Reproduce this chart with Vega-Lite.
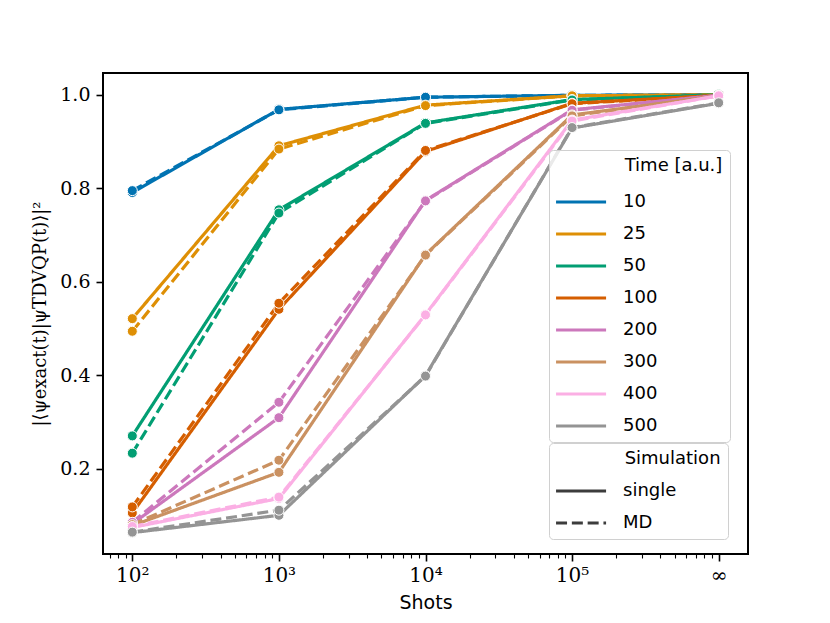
{
  "$schema": "https://vega.github.io/schema/vega-lite/v6.json",
  "width": 645,
  "height": 481,
  "autosize": {"type": "none"},
  "padding": {"left": 103, "top": 73, "right": 82, "bottom": 69},
  "background": "white",
  "config": {
    "view": {"stroke": "black", "strokeWidth": 2},
    "axis": {"grid": false, "domain": false, "tickColor": "black", "labelColor": "black", "titleColor": "black"},
    "legend": {
      "titleFont": "DejaVu Sans", "titleFontSize": 18, "titleFontWeight": "normal", "titleColor": "black",
      "labelFont": "DejaVu Sans", "labelFontSize": 18, "labelColor": "black",
      "fillColor": "rgba(255,255,255,0.8)", "strokeColor": "#d0d0d0", "cornerRadius": 4,
      "symbolType": "M-1.1,0H2.35", "symbolSize": 841, "symbolStrokeWidth": 3, "symbolFillColor": "transparent",
      "labelOffset": 35, "rowPadding": 7, "padding": 7
    }
  },
  "data": {
    "values": [
      {"shots": 100, "time": 10, "sim": "single", "fid": 0.791},
      {"shots": 1000, "time": 10, "sim": "single", "fid": 0.969},
      {"shots": 10000, "time": 10, "sim": "single", "fid": 0.995},
      {"shots": 100000, "time": 10, "sim": "single", "fid": 0.999},
      {"shots": 1000000, "time": 10, "sim": "single", "fid": 1.0},
      {"shots": 100, "time": 10, "sim": "MD", "fid": 0.795},
      {"shots": 1000, "time": 10, "sim": "MD", "fid": 0.968},
      {"shots": 10000, "time": 10, "sim": "MD", "fid": 0.995},
      {"shots": 100000, "time": 10, "sim": "MD", "fid": 0.999},
      {"shots": 1000000, "time": 10, "sim": "MD", "fid": 1.0},
      {"shots": 100, "time": 25, "sim": "single", "fid": 0.521},
      {"shots": 1000, "time": 25, "sim": "single", "fid": 0.891},
      {"shots": 10000, "time": 25, "sim": "single", "fid": 0.978},
      {"shots": 100000, "time": 25, "sim": "single", "fid": 0.998},
      {"shots": 1000000, "time": 25, "sim": "single", "fid": 1.0},
      {"shots": 100, "time": 25, "sim": "MD", "fid": 0.494},
      {"shots": 1000, "time": 25, "sim": "MD", "fid": 0.884},
      {"shots": 10000, "time": 25, "sim": "MD", "fid": 0.977},
      {"shots": 100000, "time": 25, "sim": "MD", "fid": 0.998},
      {"shots": 1000000, "time": 25, "sim": "MD", "fid": 1.0},
      {"shots": 100, "time": 50, "sim": "single", "fid": 0.270},
      {"shots": 1000, "time": 50, "sim": "single", "fid": 0.754},
      {"shots": 10000, "time": 50, "sim": "single", "fid": 0.940},
      {"shots": 100000, "time": 50, "sim": "single", "fid": 0.990},
      {"shots": 1000000, "time": 50, "sim": "single", "fid": 1.0},
      {"shots": 100, "time": 50, "sim": "MD", "fid": 0.233},
      {"shots": 1000, "time": 50, "sim": "MD", "fid": 0.747},
      {"shots": 10000, "time": 50, "sim": "MD", "fid": 0.939},
      {"shots": 100000, "time": 50, "sim": "MD", "fid": 0.989},
      {"shots": 1000000, "time": 50, "sim": "MD", "fid": 1.0},
      {"shots": 100, "time": 100, "sim": "single", "fid": 0.105},
      {"shots": 1000, "time": 100, "sim": "single", "fid": 0.541},
      {"shots": 10000, "time": 100, "sim": "single", "fid": 0.879},
      {"shots": 100000, "time": 100, "sim": "single", "fid": 0.982},
      {"shots": 1000000, "time": 100, "sim": "single", "fid": 0.999},
      {"shots": 100, "time": 100, "sim": "MD", "fid": 0.118},
      {"shots": 1000, "time": 100, "sim": "MD", "fid": 0.554},
      {"shots": 10000, "time": 100, "sim": "MD", "fid": 0.881},
      {"shots": 100000, "time": 100, "sim": "MD", "fid": 0.981},
      {"shots": 1000000, "time": 100, "sim": "MD", "fid": 0.999},
      {"shots": 100, "time": 200, "sim": "single", "fid": 0.082},
      {"shots": 1000, "time": 200, "sim": "single", "fid": 0.309},
      {"shots": 10000, "time": 200, "sim": "single", "fid": 0.774},
      {"shots": 100000, "time": 200, "sim": "single", "fid": 0.968},
      {"shots": 1000000, "time": 200, "sim": "single", "fid": 0.999},
      {"shots": 100, "time": 200, "sim": "MD", "fid": 0.085},
      {"shots": 1000, "time": 200, "sim": "MD", "fid": 0.342},
      {"shots": 10000, "time": 200, "sim": "MD", "fid": 0.773},
      {"shots": 100000, "time": 200, "sim": "MD", "fid": 0.967},
      {"shots": 1000000, "time": 200, "sim": "MD", "fid": 0.999},
      {"shots": 100, "time": 300, "sim": "single", "fid": 0.078},
      {"shots": 1000, "time": 300, "sim": "single", "fid": 0.192},
      {"shots": 10000, "time": 300, "sim": "single", "fid": 0.658},
      {"shots": 100000, "time": 300, "sim": "single", "fid": 0.957},
      {"shots": 1000000, "time": 300, "sim": "single", "fid": 0.998},
      {"shots": 100, "time": 300, "sim": "MD", "fid": 0.080},
      {"shots": 1000, "time": 300, "sim": "MD", "fid": 0.218},
      {"shots": 10000, "time": 300, "sim": "MD", "fid": 0.657},
      {"shots": 100000, "time": 300, "sim": "MD", "fid": 0.955},
      {"shots": 1000000, "time": 300, "sim": "MD", "fid": 0.998},
      {"shots": 100, "time": 400, "sim": "single", "fid": 0.074},
      {"shots": 1000, "time": 400, "sim": "single", "fid": 0.136},
      {"shots": 10000, "time": 400, "sim": "single", "fid": 0.530},
      {"shots": 100000, "time": 400, "sim": "single", "fid": 0.946},
      {"shots": 1000000, "time": 400, "sim": "single", "fid": 0.998},
      {"shots": 100, "time": 400, "sim": "MD", "fid": 0.076},
      {"shots": 1000, "time": 400, "sim": "MD", "fid": 0.139},
      {"shots": 10000, "time": 400, "sim": "MD", "fid": 0.529},
      {"shots": 100000, "time": 400, "sim": "MD", "fid": 0.944},
      {"shots": 1000000, "time": 400, "sim": "MD", "fid": 0.998},
      {"shots": 100, "time": 500, "sim": "single", "fid": 0.063},
      {"shots": 1000, "time": 500, "sim": "single", "fid": 0.100},
      {"shots": 10000, "time": 500, "sim": "single", "fid": 0.399},
      {"shots": 100000, "time": 500, "sim": "single", "fid": 0.929},
      {"shots": 1000000, "time": 500, "sim": "single", "fid": 0.982},
      {"shots": 100, "time": 500, "sim": "MD", "fid": 0.064},
      {"shots": 1000, "time": 500, "sim": "MD", "fid": 0.111},
      {"shots": 10000, "time": 500, "sim": "MD", "fid": 0.398},
      {"shots": 100000, "time": 500, "sim": "MD", "fid": 0.930},
      {"shots": 1000000, "time": 500, "sim": "MD", "fid": 0.983}
    ]
  },
  "encoding": {
    "x": {
      "field": "shots", "type": "quantitative", "title": "Shots",
      "scale": {"type": "log", "domain": [63.0957, 1584893], "nice": false},
      "axis": {
        "values": [70, 80, 90, 100, 200, 300, 400, 500, 600, 700, 800, 900, 1000, 2000, 3000, 4000, 5000, 6000, 7000, 8000, 9000, 10000, 20000, 30000, 40000, 50000, 60000, 70000, 80000, 90000, 100000, 200000, 300000, 400000, 500000, 600000, 700000, 800000, 900000, 1000000],
        "labelExpr": "datum.value == 100 ? '10²' : datum.value == 1000 ? '10³' : datum.value == 10000 ? '10⁴' : datum.value == 100000 ? '10⁵' : datum.value == 1000000 ? '∞' : ''",
        "tickSize": {"condition": {"test": "indexof([100, 1000, 10000, 100000, 1000000], datum.value) >= 0", "value": 7}, "value": 4},
        "tickWidth": {"condition": {"test": "indexof([100, 1000, 10000, 100000, 1000000], datum.value) >= 0", "value": 1.6}, "value": 1.1},
        "labelOverlap": false,
        "labelFont": "DejaVu Serif", "labelFontSize": 20, "labelPadding": 4,
        "titleFont": "DejaVu Sans", "titleFontSize": 19, "titleFontWeight": "normal", "titlePadding": 8
      }
    },
    "y": {
      "field": "fid", "type": "quantitative",
      "title": "|⟨ψexact(t)|ψTDVQP(t)⟩|²",
      "scale": {"domain": [0.0172, 1.0468], "nice": false, "zero": false},
      "axis": {
        "values": [0.2, 0.4, 0.6, 0.8, 1.0], "format": ".1f",
        "tickSize": 7, "tickWidth": 1.6,
        "labelFont": "DejaVu Serif", "labelFontSize": 19, "labelPadding": 6,
        "titleFont": "DejaVu Serif", "titleFontSize": 18, "titleFontWeight": "normal", "titlePadding": 10
      }
    }
  },
  "layer": [
    {
      "mark": {"type": "line", "strokeWidth": 3.2},
      "encoding": {
        "color": {
          "field": "time", "type": "nominal",
          "scale": {"domain": [10, 25, 50, 100, 200, 300, 400, 500], "range": ["#0173b2", "#de8f05", "#029e73", "#d55e00", "#cc78bc", "#ca9161", "#fbafe4", "#949494"]},
          "legend": {"title": "\u200b\u00a0\u00a0\u00a0\u00a0\u00a0\u00a0\u00a0\u00a0\u00a0\u00a0\u00a0\u00a0Time [a.u.]", "orient": "none", "legendX": 446, "legendY": 77, "titlePadding": 11}
        },
        "strokeDash": {
          "field": "sim", "type": "nominal",
          "scale": {"domain": ["single", "MD"], "range": [[1, 0], [11, 4.8]]},
          "legend": {"title": "\u200b\u00a0\u00a0\u00a0\u00a0\u00a0\u00a0\u00a0\u00a0\u00a0\u00a0\u00a0\u00a0Simulation", "orient": "none", "legendX": 446, "legendY": 370, "titlePadding": 7, "symbolStrokeColor": "#3c3c3c"}
        }
      }
    },
    {
      "mark": {"type": "point", "filled": true, "size": 100, "stroke": "white", "strokeWidth": 1, "opacity": 1},
      "encoding": {
        "color": {"field": "time", "type": "nominal", "legend": null}
      }
    }
  ]
}
